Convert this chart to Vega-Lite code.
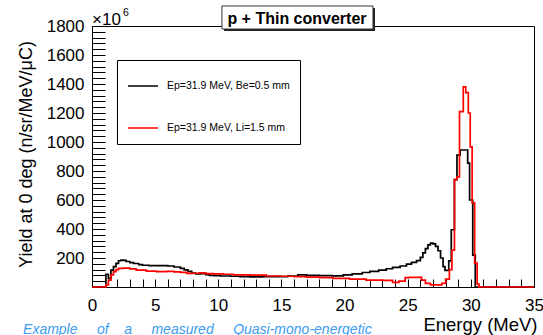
{
  "$schema": "https://vega.github.io/schema/vega-lite/v6.json",
  "width": 442,
  "height": 261,
  "autosize": "none",
  "padding": {"left": 92, "top": 26, "right": 9, "bottom": 48},
  "background": "white",
  "config": {
    "view": {"stroke": "black", "strokeWidth": 1},
    "font": "Liberation Sans"
  },
  "datasets": {
    "be": [
      {"E": 0, "y": 0}, {"E": 1.1, "y": 87}, {"E": 1.3, "y": 60}, {"E": 1.5, "y": 117}, {"E": 1.7, "y": 140},
      {"E": 1.9, "y": 163}, {"E": 2.1, "y": 181}, {"E": 2.3, "y": 186}, {"E": 2.5, "y": 183}, {"E": 2.7, "y": 176},
      {"E": 3.0, "y": 168}, {"E": 3.3, "y": 162}, {"E": 3.7, "y": 155}, {"E": 4.0, "y": 150}, {"E": 4.5, "y": 147},
      {"E": 5.0, "y": 148}, {"E": 5.5, "y": 147}, {"E": 6.0, "y": 145}, {"E": 6.5, "y": 138}, {"E": 7.0, "y": 128},
      {"E": 7.3, "y": 118}, {"E": 7.6, "y": 108}, {"E": 7.9, "y": 96}, {"E": 8.2, "y": 90}, {"E": 8.6, "y": 92},
      {"E": 9.0, "y": 85}, {"E": 9.3, "y": 80}, {"E": 9.7, "y": 78}, {"E": 10.2, "y": 76}, {"E": 11.0, "y": 74},
      {"E": 11.7, "y": 71}, {"E": 12.5, "y": 70}, {"E": 13.5, "y": 71}, {"E": 14.5, "y": 72}, {"E": 15.5, "y": 75},
      {"E": 16.3, "y": 83}, {"E": 17.0, "y": 80}, {"E": 18.0, "y": 78}, {"E": 19.0, "y": 77}, {"E": 19.9, "y": 84},
      {"E": 20.6, "y": 90}, {"E": 21.4, "y": 100}, {"E": 22.0, "y": 108}, {"E": 22.7, "y": 116}, {"E": 23.3, "y": 126},
      {"E": 23.8, "y": 135}, {"E": 24.4, "y": 145}, {"E": 24.9, "y": 158}, {"E": 25.3, "y": 170}, {"E": 25.7, "y": 182},
      {"E": 26.0, "y": 205}, {"E": 26.2, "y": 235}, {"E": 26.4, "y": 265}, {"E": 26.6, "y": 290}, {"E": 26.8, "y": 302},
      {"E": 27.0, "y": 298}, {"E": 27.2, "y": 280}, {"E": 27.4, "y": 250}, {"E": 27.6, "y": 200}, {"E": 27.8, "y": 140},
      {"E": 27.95, "y": 115}, {"E": 28.25, "y": 180}, {"E": 28.45, "y": 395}, {"E": 28.7, "y": 740}, {"E": 28.9, "y": 910},
      {"E": 29.15, "y": 945}, {"E": 29.75, "y": 855}, {"E": 29.9, "y": 600}, {"E": 30.15, "y": 220}, {"E": 30.35, "y": 0},
      {"E": 35, "y": 0}
    ],
    "li": [
      {"E": 0, "y": 0}, {"E": 1.1, "y": 14}, {"E": 1.3, "y": 48}, {"E": 1.5, "y": 83}, {"E": 1.7, "y": 106},
      {"E": 1.9, "y": 120}, {"E": 2.1, "y": 129}, {"E": 2.5, "y": 130}, {"E": 3.0, "y": 125}, {"E": 3.5, "y": 117},
      {"E": 4.3, "y": 110}, {"E": 5.1, "y": 106}, {"E": 5.9, "y": 108}, {"E": 6.5, "y": 104}, {"E": 7.0, "y": 101},
      {"E": 7.5, "y": 94}, {"E": 8.0, "y": 95}, {"E": 8.5, "y": 97}, {"E": 9.0, "y": 92}, {"E": 9.6, "y": 90},
      {"E": 10.4, "y": 88}, {"E": 11.2, "y": 83}, {"E": 12.5, "y": 82}, {"E": 13.8, "y": 76}, {"E": 15.0, "y": 74},
      {"E": 16.0, "y": 71}, {"E": 17.0, "y": 68}, {"E": 18.0, "y": 64}, {"E": 19.1, "y": 60}, {"E": 20.4, "y": 55},
      {"E": 21.7, "y": 48}, {"E": 23.0, "y": 46}, {"E": 23.8, "y": 32}, {"E": 24.3, "y": 40}, {"E": 24.8, "y": 64},
      {"E": 25.1, "y": 66}, {"E": 26.1, "y": 48}, {"E": 26.4, "y": 25}, {"E": 26.8, "y": 14}, {"E": 27.7, "y": 25},
      {"E": 28.0, "y": 55}, {"E": 28.3, "y": 120}, {"E": 28.5, "y": 255}, {"E": 28.7, "y": 740}, {"E": 28.9, "y": 760},
      {"E": 29.1, "y": 1210}, {"E": 29.4, "y": 1380}, {"E": 29.6, "y": 1340}, {"E": 29.8, "y": 1200}, {"E": 29.95, "y": 966},
      {"E": 30.1, "y": 580}, {"E": 30.3, "y": 165}, {"E": 30.5, "y": 20}, {"E": 30.65, "y": 0}, {"E": 35, "y": 0}
    ]
  },
  "layer": [
    {
      "data": {"name": "be"},
      "mark": {"type": "line", "interpolate": "step-after", "strokeWidth": 1.7},
      "encoding": {
        "x": {
          "field": "E", "type": "quantitative",
          "scale": {"domain": [0, 35], "nice": false, "zero": false},
          "axis": {
            "title": "Energy (MeV)",
            "values": [0,1,2,3,4,5,6,7,8,9,10,11,12,13,14,15,16,17,18,19,20,21,22,23,24,25,26,27,28,29,30,31,32,33,34,35],
            "tickCount": 1000,
            "format": "d",
            "labelExpr": "datum.value % 5 === 0 ? datum.label : ''",
            "tickSize": -8,
            "encode": {"ticks": {"update": {"y2": {"signal": "datum.value % 5 === 0 ? -8 : -4"}}}},
            "tickColor": "black", "domainColor": "black", "grid": false,
            "labelFont": "Liberation Sans", "labelFontSize": 17, "labelColor": "black",
            "labelPadding": 18, "labelOverlap": false, "labelFlush": false,
            "titleFont": "Liberation Sans", "titleFontSize": 18.5, "titleFontWeight": "normal", "titleColor": "black",
            "titleX": 445, "titleY": 43, "titleAlign": "right", "titleBaseline": "alphabetic"
          }
        },
        "y": {
          "field": "y", "type": "quantitative",
          "scale": {"domain": [0, 1800], "nice": false},
          "axis": {
            "title": "Yield at 0 deg (n/sr/MeV/μC)",
            "values": [0,40,80,120,160,200,240,280,320,360,400,440,480,520,560,600,640,680,720,760,800,840,880,920,960,1000,1040,1080,1120,1160,1200,1240,1280,1320,1360,1400,1440,1480,1520,1560,1600,1640,1680,1720,1760,1800],
            "tickCount": 1000,
            "format": "d",
            "labelExpr": "datum.value % 200 === 0 && datum.value > 0 ? datum.label : ''",
            "tickSize": -13,
            "encode": {"ticks": {"update": {"x2": {"signal": "datum.value % 200 === 0 ? 13 : 6.5"}}}},
            "tickColor": "black", "domainColor": "black", "grid": false,
            "labelFont": "Liberation Sans", "labelFontSize": 17, "labelColor": "black",
            "labelPadding": 21, "labelOverlap": false, "labelFlush": false,
            "titleFont": "Liberation Sans", "titleFontSize": 18, "titleFontWeight": "normal", "titleColor": "black",
            "titleX": -61, "titleY": 128, "titleAngle": -90, "titleAlign": "center", "titleBaseline": "alphabetic"
          }
        },
        "color": {
          "datum": "Ep=31.9 MeV, Be=0.5 mm",
          "scale": {"domain": ["Ep=31.9 MeV, Be=0.5 mm", "Ep=31.9 MeV, Li=1.5 mm"], "range": ["#000000", "#ff0000"]},
          "legend": {
            "orient": "none", "legendX": 25, "legendY": 34, "title": null,
            "strokeColor": "black", "fillColor": "white", "padding": 10, "cornerRadius": 0,
            "symbolType": "stroke", "symbolSize": 900, "symbolStrokeWidth": 1.5,
            "labelFont": "Liberation Sans", "labelFontSize": 10.5, "labelColor": "black",
            "labelOffset": 8, "rowPadding": 20, "labelLimit": 300
          }
        }
      }
    },
    {
      "data": {"name": "li"},
      "mark": {"type": "line", "interpolate": "step-after", "strokeWidth": 1.7},
      "encoding": {
        "x": {"field": "E", "type": "quantitative"},
        "y": {"field": "y", "type": "quantitative"},
        "color": {"datum": "Ep=31.9 MeV, Li=1.5 mm"}
      }
    },
    {
      "data": {"values": [{}]},
      "mark": {"type": "rect", "color": "#222222"},
      "encoding": {
        "x": {"datum": 10.45}, "x2": {"datum": 22.41},
        "y": {"datum": 1924}, "y2": {"datum": 1766}
      }
    },
    {
      "data": {"values": [{}]},
      "mark": {"type": "rect", "fill": "white", "stroke": "#333333", "strokeWidth": 1},
      "encoding": {
        "x": {"datum": 10.29}, "x2": {"datum": 22.25},
        "y": {"datum": 1938}, "y2": {"datum": 1779}
      }
    },
    {
      "data": {"values": [{}]},
      "mark": {"type": "text", "font": "Liberation Sans", "fontSize": 16, "fontWeight": "bold", "align": "center", "baseline": "alphabetic", "color": "black"},
      "encoding": {
        "x": {"datum": 16.23}, "y": {"datum": 1814},
        "text": {"value": "p + Thin converter"}
      }
    },
    {
      "data": {"values": [{}]},
      "mark": {"type": "text", "font": "Liberation Sans", "fontSize": 17, "align": "left", "baseline": "alphabetic", "color": "black"},
      "encoding": {
        "x": {"datum": 0}, "y": {"datum": 1807},
        "text": {"value": "×10"}
      }
    },
    {
      "data": {"values": [{}]},
      "mark": {"type": "text", "font": "Liberation Sans", "fontSize": 10.5, "align": "left", "baseline": "alphabetic", "color": "black"},
      "encoding": {
        "x": {"datum": 2.45}, "y": {"datum": 1869},
        "text": {"value": "6"}
      }
    },
    {
      "data": {"values": [{}]},
      "mark": {"type": "text", "font": "Liberation Sans", "fontSize": 14, "fontStyle": "italic", "align": "left", "baseline": "alphabetic", "color": "#3c9cf0"},
      "encoding": {
        "x": {"datum": -5.46}, "y": {"datum": -324},
        "text": {"value": "Example\u00a0\u00a0\u00a0\u00a0\u00a0of\u00a0\u00a0\u00a0\u00a0a\u00a0\u00a0\u00a0\u00a0\u00a0measured\u00a0\u00a0\u00a0\u00a0\u00a0Quasi-mono-energetic"}
      }
    }
  ]
}
